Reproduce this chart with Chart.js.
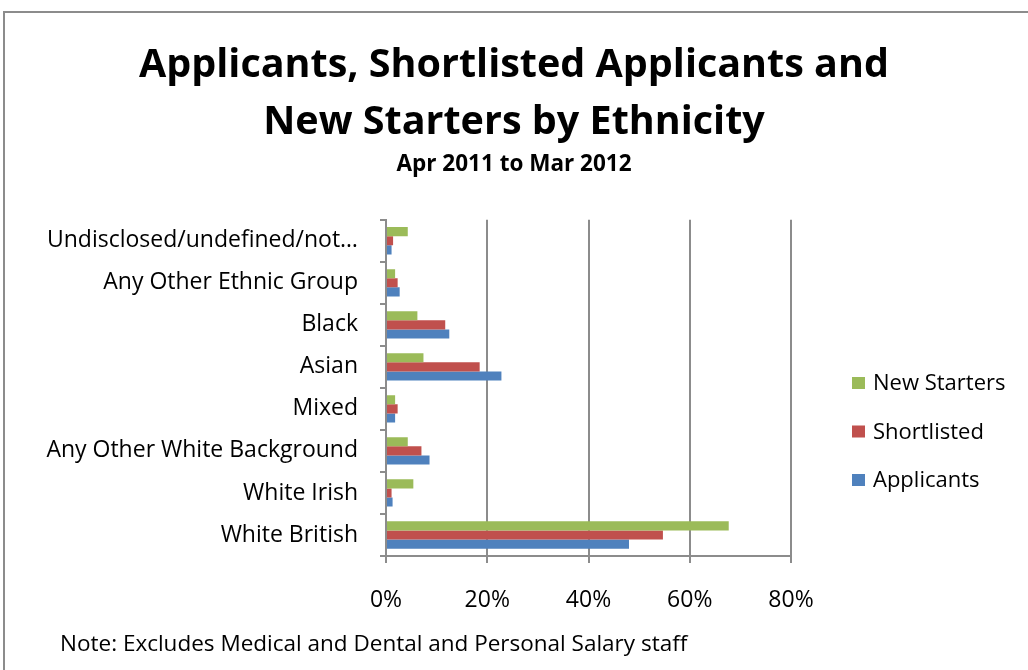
<!DOCTYPE html>
<html>
<head>
<meta charset="utf-8">
<title>Applicants, Shortlisted Applicants and New Starters by Ethnicity</title>
<script src="https://cdn.jsdelivr.net/npm/chart.js@4/dist/chart.umd.min.js"></script>
<style>
    html, body { margin: 0; padding: 0; background: #fff; overflow: hidden; }
    .frame {
        position: absolute; left: 3px; top: 11px; width: 1060px; height: 700px;
        border: 2px solid #8c8c8c; box-sizing: border-box;
    }
    .wrap { position: absolute; left: 0; top: 0; width: 1028px; height: 670px; }
    .note {
        position: absolute; left: 60px; top: 627px;
        font-family: 'Open Sans', sans-serif; font-size: 22.5px; color: #000;
    }
</style>
</head>
<body>
<div class="frame"></div>
<div class="wrap"><canvas id="ethnicityChart" width="1028" height="670"></canvas></div>
<div class="note">Note: Excludes Medical and Dental and Personal Salary staff</div>
<script>
// Ethnic groups, top to bottom
const categories = [
    'Undisclosed/undefined/not…',
    'Any Other Ethnic Group',
    'Black',
    'Asian',
    'Mixed',
    'Any Other White Background',
    'White Irish',
    'White British'
];

// Percentages of each stage
const newStarters = [4.3, 1.8, 6.2, 7.4, 1.8, 4.3, 5.4, 67.7];
const shortlisted = [1.4, 2.3, 11.7, 18.5, 2.3, 7.0, 1.1, 54.7];
const applicants = [1.1, 2.7, 12.5, 22.8, 1.8, 8.6, 1.3, 48.0];

const xTicks = [0, 20, 40, 60, 80];

const FONT = "'Open Sans', sans-serif";
const GRID = '#8c8c8c';

document.addEventListener('DOMContentLoaded', () => {
    const canvas = document.getElementById('ethnicityChart');
    const ctx = canvas.getContext('2d');

    // Right-hand legend as its own layout box, so the titles stay centred on the canvas
    const sideLegend = {
        id: 'sideLegend',
        beforeInit(chart) {
            const box = {
                position: 'right',
                weight: 0,
                fullSize: false,
                options: {},
                width: 0,
                height: 0,
                isHorizontal() { return false; },
                update(maxWidth, maxHeight) {
                    this.width = 237;
                    this.height = maxHeight;
                },
                draw() {
                    const c = chart.ctx;
                    const x = this.left + 61;
                    let y = 383;
                    c.save();
                    c.font = '22px ' + FONT;
                    c.textBaseline = 'middle';
                    chart.data.datasets.forEach(ds => {
                        c.fillStyle = ds.backgroundColor;
                        c.fillRect(x, y - 6, 13, 12);
                        c.fillStyle = '#000';
                        c.fillText(ds.label, x + 21, y + 1);
                        y += 48.5;
                    });
                    c.restore();
                }
            };
            Chart.layouts.addBox(chart, box);
        }
    };

    new Chart(ctx, {
        type: 'bar',
        data: {
            labels: categories,
            datasets: [
                { label: 'New Starters', data: newStarters, backgroundColor: '#9BBB59' },
                { label: 'Shortlisted', data: shortlisted, backgroundColor: '#C0504D' },
                { label: 'Applicants', data: applicants, backgroundColor: '#4F81BD' }
            ]
        },
        options: {
            indexAxis: 'y',
            responsive: false,
            animation: false,
            layout: { padding: 0 },
            datasets: {
                bar: { categoryPercentage: 0.65, barPercentage: 1.0, borderWidth: 0 }
            },
            plugins: {
                legend: { display: false },
                tooltip: { enabled: false },
                title: {
                    display: true,
                    text: ['Applicants, Shortlisted Applicants and', 'New Starters by Ethnicity'],
                    color: '#000',
                    font: { family: FONT, size: 39.5, weight: 'bold', lineHeight: 1.44 },
                    padding: { top: 37, bottom: 0 }
                },
                subtitle: {
                    display: true,
                    text: 'Apr 2011 to Mar 2012',
                    color: '#000',
                    font: { family: FONT, size: 22.5, weight: 'bold', lineHeight: 1.2 },
                    padding: { top: 0, bottom: 42 }
                }
            },
            scales: {
                x: {
                    min: 0,
                    max: 80,
                    afterBuildTicks(scale) {
                        scale.ticks = xTicks.map(v => ({ value: v }));
                    },
                    afterFit(scale) { scale.height = 114; },
                    grid: { color: GRID, lineWidth: 2, tickLength: 7 },
                    border: { color: GRID, width: 2 },
                    ticks: {
                        color: '#000',
                        padding: 24,
                        font: { family: FONT, size: 23 },
                        callback: v => v + '%'
                    }
                },
                y: {
                    afterFit(scale) { scale.width = 386; },
                    grid: { drawOnChartArea: false, color: GRID, lineWidth: 2, tickLength: 6 },
                    border: { color: GRID, width: 2 },
                    ticks: {
                        color: '#000',
                        padding: 22,
                        font: { family: FONT, size: 23 }
                    }
                }
            }
        },
        plugins: [sideLegend]
    });
});
</script>
</body>
</html>
